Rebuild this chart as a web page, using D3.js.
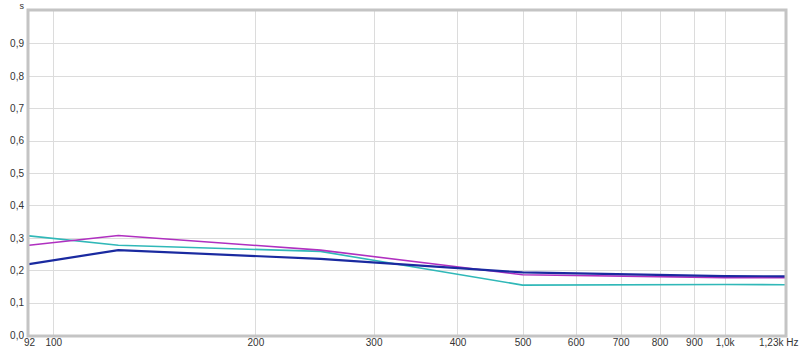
<!DOCTYPE html>
<html><head><meta charset="utf-8">
<script src="https://cdn.jsdelivr.net/npm/d3@7"></script>
<style>body{margin:0;background:#fff;}svg{display:block;font-family:"Liberation Sans",Arial,sans-serif;}</style>
</head><body>
<svg id="c" width="800" height="350"></svg>
<script>
const freqs = [92, 125, 250, 500, 1000, 1230];
const cyanVals = [0.306, 0.277, 0.258, 0.154, 0.156, 0.155];
const magentaVals = [0.277, 0.307, 0.262, 0.186, 0.177, 0.177];
const blueVals = [0.219, 0.262, 0.235, 0.193, 0.182, 0.181];
const xTicks = [92, 100, 200, 300, 400, 500, 600, 700, 800, 900, 1000, 1230];
const xTickLabels = ["92", "100", "200", "300", "400", "500", "600", "700", "800", "900", "1,0k", "1,23k Hz"];
const xGrid = [100, 200, 300, 400, 500, 600, 700, 800, 900, 1000];
const yTicks = [0, 0.1, 0.2, 0.3, 0.4, 0.5, 0.6, 0.7, 0.8, 0.9];
const yTickLabels = ["0,0", "0,1", "0,2", "0,3", "0,4", "0,5", "0,6", "0,7", "0,8", "0,9"];
const yUnit = "s";

const FONT = '"Liberation Sans",Arial,sans-serif';
const svg = d3.select("#c");
const L = 29, R = 785, T = 11, B = 335;
const x = d3.scaleLog().domain([92, 1230]).range([L, R]);
const y = d3.scaleLinear().domain([0, 1]).range([B, T]);

// grid
const gx = svg.append("g").attr("transform", `translate(0,${B})`)
  .call(d3.axisBottom(x).tickValues(xGrid).tickSize(-(B - T)).tickFormat(""));
gx.select(".domain").remove();
gx.selectAll("line").attr("stroke", "#dcdcdc").attr("shape-rendering", "crispEdges");
const gy = svg.append("g").attr("transform", `translate(${L},0)`)
  .call(d3.axisLeft(y).tickValues(yTicks.slice(1)).tickSize(-(R - L)).tickFormat(""));
gy.select(".domain").remove();
gy.selectAll("line").attr("stroke", "#dcdcdc").attr("shape-rendering", "crispEdges");

// labels
const ax = svg.append("g").attr("transform", `translate(0,${B})`)
  .call(d3.axisBottom(x).tickValues(xTicks).tickSize(0).tickPadding(4)
    .tickFormat((d, i) => xTickLabels[i]));
ax.select(".domain").remove();
ax.selectAll("text").attr("fill", "#333").style("font-size", "10px").style("font-family", FONT);
ax.selectAll("text").filter((d, i) => i === xTicks.length - 1)
  .attr("text-anchor", "end").attr("dx", "13");

const ay = svg.append("g").attr("transform", `translate(${L},0)`)
  .call(d3.axisLeft(y).tickValues(yTicks).tickSize(0).tickPadding(5)
    .tickFormat((d, i) => yTickLabels[i]));
ay.select(".domain").remove();
ay.selectAll("text").attr("fill", "#333").style("font-size", "10px").style("font-family", FONT);

svg.append("text").attr("x", L - 5).attr("y", 9).attr("text-anchor", "end")
  .attr("fill", "#333").style("font-size", "9px").style("font-family", FONT).text(yUnit);

// lines
const line = d3.line().x((d, i) => x(freqs[i])).y(d => y(d));
const series = [
  {v: cyanVals, c: "#30b8b8", w: 1.6},
  {v: magentaVals, c: "#b030c0", w: 1.6},
  {v: blueVals, c: "#1a2aa0", w: 2.2}
];
svg.append("g").selectAll("path").data(series).join("path")
  .attr("d", d => line(d.v)).attr("fill", "none")
  .attr("stroke", d => d.c).attr("stroke-width", d => d.w).attr("stroke-linejoin", "round");

// frame
svg.append("rect").attr("x", L - 1).attr("y", T - 1).attr("width", R - L + 2).attr("height", B - T + 2)
  .attr("fill", "none").attr("stroke", "#c4c4c4").attr("stroke-width", 3);
</script>
</body></html>
